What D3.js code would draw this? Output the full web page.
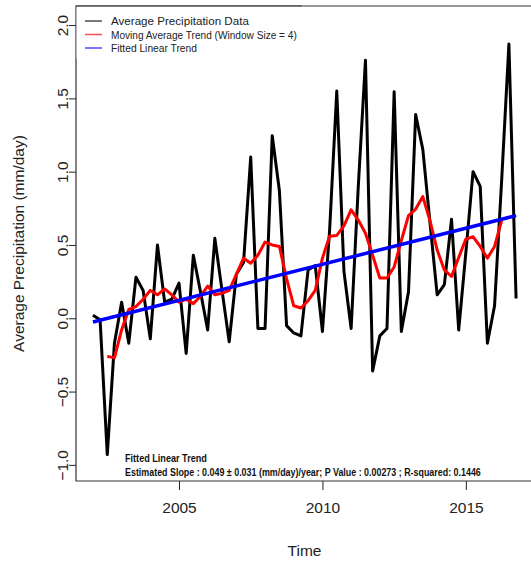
<!DOCTYPE html>
<html>
<head>
<meta charset="utf-8">
<script src="https://cdn.jsdelivr.net/npm/d3@7"></script>
<style>
  body { margin: 0; background: #fff; }
  svg { display: block; font-family: "Liberation Sans", Arial, sans-serif; }
</style>
</head>
<body>
<div id="chart"></div>
<script>
// quarterly series, first value at 2002.00
const startYear = 2002;
const stepYears = 0.25;

const precip = [
  0.02, -0.01, -0.93, -0.17, 0.11, -0.17, 0.28, 0.19, -0.14, 0.50,
  0.11, 0.13, 0.24, -0.24, 0.43, 0.18, -0.08, 0.545, 0.19, -0.16,
  0.30, 0.38, 1.10, -0.07, -0.07, 1.245, 0.87, -0.05, -0.10, -0.12,
  0.33, 0.36, -0.09, 0.60, 1.55, 0.32, -0.07, 0.90, 1.76, -0.36,
  -0.12, -0.07, 1.545, -0.09, 0.18, 1.39, 1.15, 0.65, 0.16, 0.23,
  0.675, -0.08, 0.45, 1.0, 0.90, -0.17, 0.085, 0.95, 1.87, 0.135
];

// moving average (window 4), null where not drawn
const movingAvg = [
  null, null, -0.26, -0.27, -0.08, 0.06, 0.08, 0.13, 0.19, 0.16,
  0.20, 0.16, 0.11, 0.13, 0.10, 0.15, 0.22, 0.16, 0.17, 0.19,
  0.30, 0.41, 0.375, 0.43, 0.52, 0.50, 0.49, 0.27, 0.085, 0.07,
  0.12, 0.19, 0.41, 0.56, 0.565, 0.63, 0.74, 0.67, 0.58, 0.43,
  0.275, 0.275, 0.35, 0.53, 0.70, 0.745, 0.83, 0.665, 0.465, 0.33,
  0.285, 0.415, 0.54, 0.556, 0.49, 0.41, 0.49, 0.67, null, null
];

const trendYears = [2002, 2016.75];
const trendValues = [-0.025, 0.70];

const xTicks = [2005, 2010, 2015];
const yTicks = [-1.0, -0.5, 0.0, 0.5, 1.0, 1.5, 2.0];

const legendLabels = [
  "Average Precipitation Data",
  "Moving Average Trend (Window Size = 4)",
  "Fitted Linear Trend"
];
const legendColors = ["#000000", "#ff0000", "#0000ff"];

const noteLines = [
  "Fitted Linear Trend",
  "Estimated Slope :  0.049 \u00b1 0.031 (mm/day)/year; P Value : 0.00273 ; R-squared: 0.1446"
];

const width = 531;
const height = 561;
const plot = { left: 76, right: 533, top: 6, bottom: 481 };

const svg = d3
  .select("#chart")
  .append("svg")
  .attr("width", width)
  .attr("height", height);

// squeeze a text horizontally so it fills the wanted width
const fitWidth = (sel, widthOf) => {
  sel.each(function (d, i) {
    const w = this.getComputedTextLength();
    const g = d3.select(this);
    const tx = +g.attr("data-x");
    const ty = +g.attr("data-y");
    g.attr("transform", "translate(" + tx + "," + ty + ") scale(" + widthOf(i) / w + ",1)");
  });
};

//----------------------------SCALES----------------------------//
const xScale = d3.scaleLinear().domain([2001.41, 2017.34]).range([plot.left, plot.right]);
const yScale = d3.scaleLinear().domain([-1.11, 2.13]).range([plot.bottom, plot.top]);

const timeOf = (i) => startYear + i * stepYears;

svg
  .append("clipPath")
  .attr("id", "clip")
  .append("rect")
  .attr("x", plot.left)
  .attr("y", plot.top)
  .attr("width", plot.right - plot.left)
  .attr("height", plot.bottom - plot.top);

//----------------------------LINES-----------------------------//
const line = d3
  .line()
  .defined((d) => d != null)
  .x((d, i) => xScale(timeOf(i)))
  .y((d) => yScale(d));

const lines = svg.append("g").attr("clip-path", "url(#clip)");

lines
  .append("path")
  .attr("d", line(precip))
  .attr("fill", "none")
  .attr("stroke", "#000")
  .attr("stroke-width", 3)
  .attr("stroke-linejoin", "round");

lines
  .append("path")
  .attr("d", line(movingAvg))
  .attr("fill", "none")
  .attr("stroke", "#ff0000")
  .attr("stroke-width", 3)
  .attr("stroke-linejoin", "round");

lines
  .append("path")
  .attr(
    "d",
    d3
      .line()
      .x((d) => xScale(d[0]))
      .y((d) => yScale(d[1]))(trendYears.map((t, i) => [t, trendValues[i]]))
  )
  .attr("fill", "none")
  .attr("stroke", "#0000ff")
  .attr("stroke-width", 3.5);

//-----------------------------AXES-----------------------------//
const xaxis = d3
  .axisBottom(xScale)
  .tickValues(xTicks)
  .tickSize(9)
  .tickPadding(12)
  .tickFormat(d3.format("d"));

const gx = svg
  .append("g")
  .attr("transform", "translate(0," + plot.bottom + ")")
  .call(xaxis);
gx.select(".domain").remove();
gx.selectAll("line").attr("stroke", "#222");
gx.selectAll("text")
  .attr("font-size", 15.5)
  .attr("fill", "#222")
  .attr("font-family", "Liberation Sans, Arial, sans-serif");

const yaxis = d3
  .axisLeft(yScale)
  .tickValues(yTicks)
  .tickSize(7)
  .tickFormat(d3.format(".1f"));

const gy = svg
  .append("g")
  .attr("transform", "translate(" + plot.left + ",0)")
  .call(yaxis);
gy.select(".domain").remove();
gy.selectAll("line").attr("stroke", "#222");
gy.selectAll("text")
  .attr("transform", "rotate(-90)")
  .attr("x", 0)
  .attr("y", -8)
  .attr("dy", 0)
  .attr("text-anchor", "middle")
  .attr("font-size", 15.5)
  .attr("fill", "#222")
  .attr("font-family", "Liberation Sans, Arial, sans-serif");

// frame
svg
  .append("path")
  .attr(
    "d",
    "M" + plot.right + "," + plot.top +
      "H" + plot.left +
      "V" + plot.bottom +
      "H" + plot.right
  )
  .attr("fill", "none")
  .attr("stroke", "#333")
  .attr("stroke-width", 1.2);

svg
  .append("text")
  .attr("x", (plot.left + plot.right) / 2)
  .attr("y", 556)
  .attr("text-anchor", "middle")
  .attr("font-size", 15.5)
  .attr("fill", "#222")
  .text("Time");

svg
  .append("text")
  .attr("transform", "translate(24," + (plot.top + plot.bottom) / 2 + ") rotate(-90)")
  .attr("text-anchor", "middle")
  .attr("font-size", 15.5)
  .attr("fill", "#222")
  .text("Average Precipitation (mm/day)");

//----------------------------LEGEND----------------------------//
const legend = svg.append("g");
legend
  .append("rect")
  .attr("x", plot.left + 0.6)
  .attr("y", plot.top + 0.6)
  .attr("width", 226)
  .attr("height", 52)
  .attr("fill", "#fff");
legend
  .append("line")
  .attr("x1", plot.left)
  .attr("x2", 302)
  .attr("y1", plot.top)
  .attr("y2", plot.top)
  .attr("stroke", "#333")
  .attr("stroke-width", 1.2);

legend
  .selectAll("line.key")
  .data(legendLabels)
  .enter()
  .append("line")
  .attr("class", "key")
  .attr("x1", 85)
  .attr("x2", 102)
  .attr("y1", (d, i) => 21 + i * 13.5)
  .attr("y2", (d, i) => 21 + i * 13.5)
  .attr("stroke", (d, i) => legendColors[i])
  .attr("stroke-opacity", 0.7)
  .attr("stroke-width", 1.5);

legend
  .selectAll("text.key")
  .data(legendLabels)
  .enter()
  .append("text")
  .attr("class", "key")
  .attr("data-x", 111)
  .attr("data-y", (d, i) => 21 + i * 13.5)
  .attr("dy", "0.35em")
  .attr("font-size", 11.5)
  .attr("fill", "#222")
  .text((d) => d)
  .call(fitWidth, (i) => [138, 186, 86][i]);

//----------------------------NOTE------------------------------//
svg
  .selectAll("text.note")
  .data(noteLines)
  .enter()
  .append("text")
  .attr("class", "note")
  .attr("data-x", 125)
  .attr("data-y", (d, i) => 462 + i * 14)
  .attr("font-size", 11)
  .attr("font-weight", "bold")
  .attr("fill", "#111")
  .text((d) => d)
  .call(fitWidth, (i) => [82, 356][i]);
</script>
</body>
</html>
